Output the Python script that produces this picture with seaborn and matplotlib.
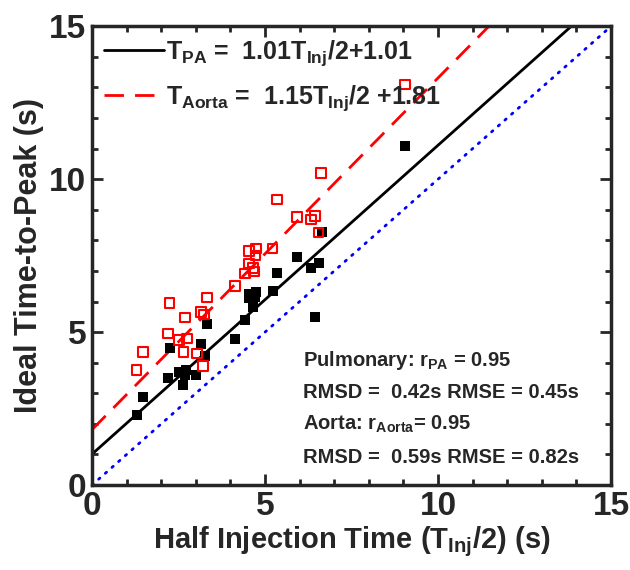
import matplotlib
matplotlib.use('Agg')
import matplotlib.pyplot as plt
import seaborn as sns
import numpy as np
import pandas as pd

# valores
pa_x = [1.29, 1.48, 2.19, 2.24, 2.51, 2.64, 2.71, 2.69, 3.02, 3.15, 3.27, 3.33, 4.13, 4.43,
        4.55, 4.55, 4.66, 4.64, 4.74, 4.71, 5.22, 5.34, 5.93, 6.33, 6.55, 6.45, 6.66, 9.05]
pa_y = [2.29, 2.89, 3.51, 4.47, 3.70, 3.27, 3.76, 3.60, 3.59, 4.60, 4.22, 5.28, 4.77, 5.38,
        6.26, 6.10, 5.99, 5.83, 6.32, 6.15, 6.35, 6.94, 7.46, 7.11, 7.25, 5.50, 8.26, 11.08]

aorta_x = [1.29, 1.48, 2.19, 2.24, 2.51, 2.64, 2.74, 2.69, 3.04, 3.20, 3.15, 3.24, 3.33, 4.13, 4.43,
           4.54, 4.68, 4.66, 4.54, 4.73, 4.74, 5.22, 5.34, 5.93, 6.33, 6.45, 6.55, 6.62, 9.05]
aorta_y = [3.76, 4.36, 4.96, 5.96, 4.74, 4.34, 4.79, 5.48, 4.30, 3.90, 5.66, 5.58, 6.13, 6.50, 6.92,
           7.24, 6.98, 7.10, 7.66, 7.50, 7.73, 7.73, 9.34, 8.77, 8.68, 8.80, 8.26, 10.21, 13.10]

# coeficientes das retas de ajuste
fit_pa = (1.01, 1.01)
fit_aorta = (1.15, 1.81)
line_x = np.array([0, 15])

sns.set_style('ticks')
plt.rcParams['font.family'] = ['Liberation Sans', 'DejaVu Sans']
plt.rcParams['font.weight'] = 'bold'
plt.rcParams['axes.labelweight'] = 'bold'
plt.rcParams['mathtext.fontset'] = 'custom'
plt.rcParams['mathtext.rm'] = 'Liberation Sans:bold'
plt.rcParams['mathtext.it'] = 'Liberation Sans:bold'
plt.rcParams['mathtext.bf'] = 'Liberation Sans:bold'
plt.rcParams['mathtext.default'] = 'regular'

fig = plt.figure(figsize=(6.3, 5.7), dpi=100)
ax = fig.add_axes([0.146, 0.149, 0.824, 0.805])

df_lines = pd.DataFrame({
    'x': line_x,
    'pa': fit_pa[0] * line_x + fit_pa[1],
    'aorta': fit_aorta[0] * line_x + fit_aorta[1],
    'ident': line_x,
})

sns.lineplot(x='x', y='pa', data=df_lines, ax=ax, color='black', lw=2.0,
             label=r'T$_{PA}$ =  1.01T$_{Inj}$/2+1.01')
sns.lineplot(x='x', y='aorta', data=df_lines, ax=ax, color='#ff0000', lw=2.0,
             dashes=False, label=r'T$_{Aorta}$ =  1.15T$_{Inj}$/2 +1.81')
ax.lines[-1].set_dashes([7, 4])
sns.lineplot(x='x', y='ident', data=df_lines, ax=ax, color='#0000ff', lw=2.0)
ax.lines[-1].set_linestyle((0, (0.6, 2.6)))
ax.lines[-1].set_dash_capstyle('round')

sns.scatterplot(x=pa_x, y=pa_y, ax=ax, marker='s', color='black', s=50, linewidth=0,
                zorder=3)
sns.scatterplot(x=aorta_x, y=aorta_y, ax=ax, marker='s', facecolor='none',
                edgecolor='#ff0000', s=48, linewidth=1.5, zorder=4)

ax.set_xlim(0, 15)
ax.set_ylim(0, 15)
ax.set_xticks([0, 5, 10, 15])
ax.set_yticks([0, 5, 10, 15])
ax.set_xticks(np.arange(0, 16, 1), minor=True)
ax.set_yticks(np.arange(0, 16, 1), minor=True)
ax.tick_params(which='both', direction='in', top=True, right=True, width=2)
ax.tick_params(which='major', length=8, labelsize=24, pad=4)
ax.tick_params(which='minor', length=4)
for sp in ax.spines.values():
    sp.set_linewidth(2.5)
    sp.set_visible(True)

ax.set_xlabel(r'Half Injection Time (T$_{Inj}$/2) (s)', fontsize=21, labelpad=2)
ax.set_ylabel('Ideal Time-to-Peak (s)', fontsize=22, labelpad=4)

leg = ax.legend(loc='upper left', bbox_to_anchor=(0, 1), frameon=False, fontsize=18,
                handlelength=2.4, handletextpad=0.05, labelspacing=0.6,
                borderaxespad=0.1, borderpad=0.4)

notas = [r'Pulmonary: r$_{PA}$ = 0.95', 'RMSD =  0.42s RMSE = 0.45s',
         r'Aorta: r$_{Aorta}$= 0.95', 'RMSD =  0.59s RMSE = 0.82s']
notas_y = [3.89, 2.84, 1.80, 0.72]
for txt, yy in zip(notas, notas_y):
    ax.text(6.1, yy, txt, fontsize=14.5, fontweight='bold', va='baseline', ha='left')

plt.savefig('out.png', dpi=100)
plt.close()
